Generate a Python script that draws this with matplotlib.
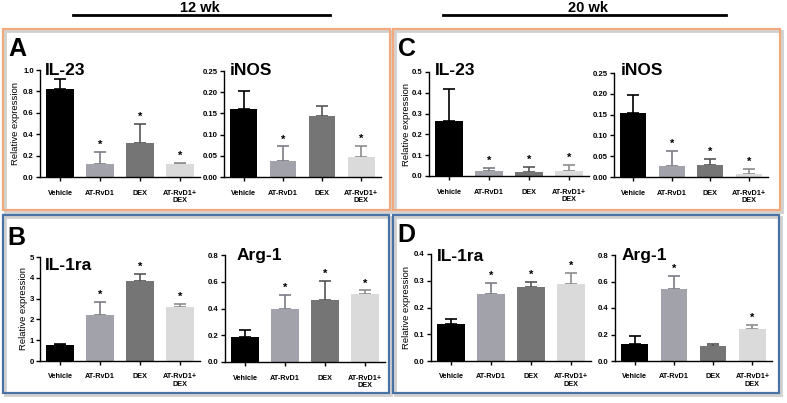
import numpy as np
import matplotlib.pyplot as plt
from matplotlib.patches import Rectangle

plt.rcParams['font.family'] = ['Liberation Sans', 'DejaVu Sans']

groups = ["Vehicle", "AT-RvD1", "DEX", "AT-RvD1+\nDEX"]

# 12 wk
il23_12_mean = [0.82, 0.12, 0.32, 0.12]
il23_12_err = [0.10, 0.11, 0.18, 0.015]
il23_12_sig = [0, 1, 1, 1]
inos_12_mean = [0.160, 0.038, 0.145, 0.046]
inos_12_err = [0.043, 0.034, 0.022, 0.028]
inos_12_sig = [0, 1, 0, 1]
il1ra_12_mean = [0.75, 2.22, 3.87, 2.60]
il1ra_12_err = [0.07, 0.60, 0.33, 0.15]
il1ra_12_sig = [0, 1, 1, 1]
arg1_12_mean = [0.185, 0.40, 0.465, 0.51]
arg1_12_err = [0.055, 0.10, 0.14, 0.025]
arg1_12_sig = [0, 1, 1, 1]

# 20 wk
il23_20_mean = [0.265, 0.022, 0.020, 0.025]
il23_20_err = [0.155, 0.015, 0.023, 0.030]
il23_20_sig = [0, 1, 1, 1]
inos_20_mean = [0.155, 0.026, 0.028, 0.008]
inos_20_err = [0.043, 0.036, 0.016, 0.012]
inos_20_sig = [0, 1, 1, 1]
il1ra_20_mean = [0.14, 0.25, 0.275, 0.288]
il1ra_20_err = [0.018, 0.04, 0.022, 0.042]
il1ra_20_sig = [0, 1, 1, 1]
arg1_20_mean = [0.125, 0.545, 0.11, 0.24]
arg1_20_err = [0.06, 0.10, 0.02, 0.03]
arg1_20_sig = [0, 1, 0, 1]

bar_colors = ['#000000', '#a2a2aa', '#757575', '#dadada']
err_colors = ['#000000', '#7c7c86', '#555555', '#8c8c8c']

W, H = 787, 403
fig = plt.figure(figsize=(W / 100, H / 100), dpi=100)


def fx(x):
    return x / W


def fy(y):
    return 1 - y / H


def box(x0, y0, x1, y1, color):
    shadow = Rectangle((fx(x0 + 2), fy(y1 + 2)), (x1 - x0) / W, (y1 - y0) / H,
                       transform=fig.transFigure, fill=False, ec='#d0d0d0', lw=2)
    fig.add_artist(shadow)
    r = Rectangle((fx(x0), fy(y1)), (x1 - x0) / W, (y1 - y0) / H,
                  transform=fig.transFigure, fill=False, ec=color, lw=1.6)
    fig.add_artist(r)


orange = '#f2a97e'
blue = '#4a72a4'
box(3, 29, 390, 210, orange)
box(393, 29, 780, 210, orange)
box(3, 215, 389, 393, blue)
box(393, 215, 779, 393, blue)

# headers
fig.text(fx(200), fy(8), "12 wk", ha='center', va='center', fontsize=10.5, fontweight='bold')
fig.text(fx(588), fy(8), "20 wk", ha='center', va='center', fontsize=10.5, fontweight='bold')
fig.add_artist(plt.Line2D([fx(73), fx(330)], [fy(15), fy(15)], color='black', lw=2))
fig.add_artist(plt.Line2D([fx(443), fx(726)], [fy(15), fy(15)], color='black', lw=2))

# panel letters
for letter, x, y in [("A", 8, 56), ("C", 398, 56), ("B", 7, 245), ("D", 397, 242)]:
    fig.text(fx(x), fy(y), letter, ha='left', va='baseline', fontsize=18, fontweight='bold')


def panel(rect, mean, err, sig, top, step, title, title_xy, ylabel_x=None):
    x0, y0, x1, y1 = rect
    ax = fig.add_axes([fx(x0), fy(y1), (x1 - x0) / W, (y1 - y0) / H])
    ax.patch.set_alpha(0)
    x = np.arange(len(groups))
    for i in x:
        ax.bar(i, mean[i], width=0.68, color=bar_colors[i], zorder=2)
        ax.errorbar(i, mean[i], yerr=[[0], [err[i]]], ecolor=err_colors[i],
                    elinewidth=1.2, capsize=4, capthick=1.2, fmt='none', zorder=1)
        if sig[i]:
            ax.annotate('*', (i, mean[i] + err[i]), xytext=(0, 1.5), textcoords='offset points',
                        ha='center', va='bottom', fontsize=8, fontweight='bold')
    ax.set_xlim(-0.5, 3.5)
    ax.set_ylim(0, top)
    ax.set_yticks(np.arange(0, top + step / 2, step))
    ax.set_xticks(x)
    ax.set_xticklabels(groups, fontsize=5.2, fontweight='bold', linespacing=1.1)
    for s in ['top', 'right']:
        ax.spines[s].set_visible(False)
    for s in ['left', 'bottom']:
        ax.spines[s].set_linewidth(1)
    ax.tick_params(axis='both', direction='out', length=3, width=1, pad=1.5)
    ax.tick_params(axis='x', pad=6)
    ax.tick_params(axis='y', labelsize=5.6)
    plt.setp(ax.get_yticklabels(), fontweight='bold')
    fig.text(fx(title_xy[0]), fy(title_xy[1]), title, ha='left', va='baseline',
             fontsize=12.5, fontweight='bold')
    if ylabel_x is not None:
        fig.text(fx(ylabel_x), fy((y0 + y1) / 2), "Relative expression", rotation=90,
                 ha='center', va='center', fontsize=6.8)
    return ax


panel((40, 70, 200, 177), il23_12_mean, il23_12_err, il23_12_sig, 1.0, 0.2, "IL-23", (45, 75), 15.5)
panel((224, 71, 381, 177), inos_12_mean, inos_12_err, inos_12_sig, 0.25, 0.05, "iNOS", (230, 75))
panel((429, 72, 589, 176), il23_20_mean, il23_20_err, il23_20_sig, 0.5, 0.1, "IL-23", (435, 75), 406)
panel((614, 73, 768, 177), inos_20_mean, inos_20_err, inos_20_sig, 0.25, 0.05, "iNOS", (621, 75))
panel((40, 257, 200, 361), il1ra_12_mean, il1ra_12_err, il1ra_12_sig, 5, 1, "IL-1ra", (45, 270), 24)
panel((225, 255, 385, 362), arg1_12_mean, arg1_12_err, arg1_12_sig, 0.8, 0.2, "Arg-1", (237, 260))
panel((431, 254, 591, 361), il1ra_20_mean, il1ra_20_err, il1ra_20_sig, 0.4, 0.1, "IL-1ra", (437, 261), 406)
panel((615, 255, 772, 361), arg1_20_mean, arg1_20_err, arg1_20_sig, 0.8, 0.2, "Arg-1", (622, 260))

fig.savefig("out.png", dpi=100)
